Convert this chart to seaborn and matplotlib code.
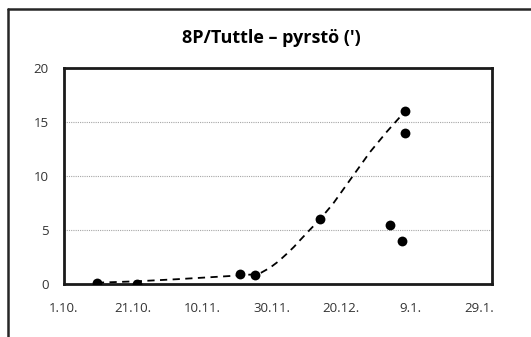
import matplotlib
matplotlib.use("Agg")
import matplotlib.pyplot as plt
import seaborn as sns
import pandas as pd
from matplotlib.lines import Line2D
from matplotlib.ticker import MultipleLocator

# Observations: days since 1 Oct, tail length (arcmin)
obs_days = [9.5, 21.0, 51.0, 55.2, 74.0, 94.2, 97.6, 98.6, 98.6]
obs_tail = [0.1, 0.0, 0.95, 0.8, 6.0, 5.45, 4.0, 16.0, 14.0]

# Dashed trend curve
curve_days = [9.5, 21.0, 33.0, 45.0, 51.0, 55.0, 57.0, 59.5, 62.0, 64.4, 66.5, 68.2, 71.0,
              74.0, 77.8, 81.7, 85.5, 88.4, 93.3, 98.6]
curve_tail = [0.12, 0.25, 0.45, 0.68, 0.8, 0.9, 1.05, 1.5, 2.1, 2.8, 3.45, 4.05, 5.0,
              6.0, 7.45, 9.2, 10.9, 12.2, 14.1, 16.0]

tick_days = [0, 20, 40, 60, 80, 100, 120]
tick_labels = ['1.10.', '21.10.', '10.11.', '30.11.', '20.12.', '9.1.', '29.1.']
y_ticks = [0, 5, 10, 15, 20]

title = "8P/Tuttle – pyrstö (')"

sns.set_style("white")
plt.rcParams['font.family'] = ['Open Sans', 'DejaVu Sans']

fig = plt.figure(figsize=(5.31, 3.37), dpi=100)
ax = fig.add_axes([64/531, 1-284/337, (492-64)/531, (284-68)/337])

obs = pd.DataFrame({'day': obs_days, 'tail': obs_tail})
cur = pd.DataFrame({'day': curve_days, 'tail': curve_tail})

sns.lineplot(data=cur, x='day', y='tail', ax=ax, sort=False, color='black',
             linewidth=1.3, dashes=False, estimator=None, zorder=3)
ax.lines[-1].set_dashes([4.0, 3.0])
sns.scatterplot(data=obs, x='day', y='tail', ax=ax, color='black', s=50,
                edgecolor='black', linewidth=0, zorder=4)

ax.set_xlim(0, 123.7)
ax.set_ylim(0, 20)
ax.set_xticks(tick_days)
ax.set_xticklabels(tick_labels)
ax.xaxis.set_minor_locator(MultipleLocator(10))
ax.set_yticks(y_ticks)
ax.set_yticklabels([str(v) for v in y_ticks])
ax.set_xlabel('')
ax.set_ylabel('')

for v in y_ticks[1:-1]:
    ax.axhline(v, color='#a6a6a6', linewidth=0.8, linestyle=(0, (1, 1)), zorder=1)

for s in ax.spines.values():
    s.set_visible(True)
    s.set_color('#1a1a1a')
    s.set_linewidth(2.0)

ax.tick_params(axis='both', which='both', direction='out', length=4, width=1.5,
               color='#1a1a1a', labelsize=9.5, labelcolor='#333333')
ax.tick_params(axis='x', which='both', pad=9)
ax.tick_params(axis='y', pad=7)

fig.text(271/531, 1-38/337, title, ha='center', va='center', fontsize=13,
         fontweight='bold', color='black')

# outer chart frame (left and top edges visible)
fig.add_artist(Line2D([7.5/531, 7.5/531], [0, 1-9/337], transform=fig.transFigure,
                      color='#262626', linewidth=1.8))
fig.add_artist(Line2D([7.5/531, 1], [1-9/337, 1-9/337], transform=fig.transFigure,
                      color='#262626', linewidth=1.8))

fig.savefig('out.png', dpi=100)
